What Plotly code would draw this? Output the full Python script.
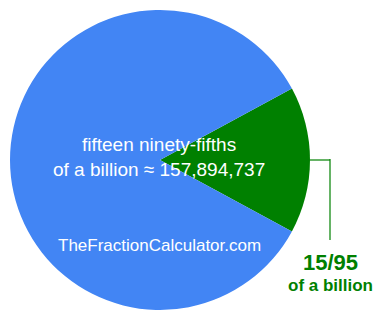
import math
import plotly.graph_objects as go

labels = ["15/95 of a billion", "remainder"]
values = [15, 80]
colors = ["#008000", "#4285F4"]
main_text = "fifteen ninety-fifths<br>of a billion ≈ 157,894,737"
site_text = "TheFractionCalculator.com"
frac_label = "15/95"
frac_sub = "of a billion"

W, H = 385, 320
cx, cy, R = 160, 160, 150  # pie center / radius in pixels

half = values[0] / sum(values) * 360 / 2
fig = go.Figure(go.Pie(
    labels=labels, values=values, sort=False, direction="clockwise",
    rotation=90 - half,
    marker=dict(colors=colors, line=dict(width=0)),
    textinfo="none", hoverinfo="skip", showlegend=False,
    domain=dict(x=[(cx - R) / W, (cx + R) / W], y=[(H - cy - R) / H, (H - cy + R) / H]),
))

def px(x):
    return x / W

def py(y):
    return 1 - y / H

font = "Arial, Liberation Sans, sans-serif"
lc = "rgba(0,128,0,0.6)"
fig.add_shape(type="line", xref="paper", yref="paper", x0=px(cx + R), y0=py(cy), x1=px(330), y1=py(cy),
              line=dict(color=lc, width=2))
fig.add_shape(type="line", xref="paper", yref="paper", x0=px(330), y0=py(cy - 1), x1=px(330), y1=py(240),
              line=dict(color=lc, width=2))

def ann(x, y, text, size, color):
    fig.add_annotation(x=px(x), y=py(y), xref="paper", yref="paper", text=text, showarrow=False,
                       xanchor="center", yanchor="middle", align="center",
                       font=dict(family=font, size=size, color=color))

ann(159, 157, main_text, 19, "white")
ann(159, 245, site_text, 17, "white")
ann(330, 262, "<b>" + frac_label + "</b>", 22, "#008000")
ann(330, 285, "<b>" + frac_sub + "</b>", 17, "#008000")

fig.update_layout(width=W, height=H, margin=dict(l=0, r=0, t=0, b=0),
                  paper_bgcolor="white", plot_bgcolor="white")
fig.write_html("out.html")
